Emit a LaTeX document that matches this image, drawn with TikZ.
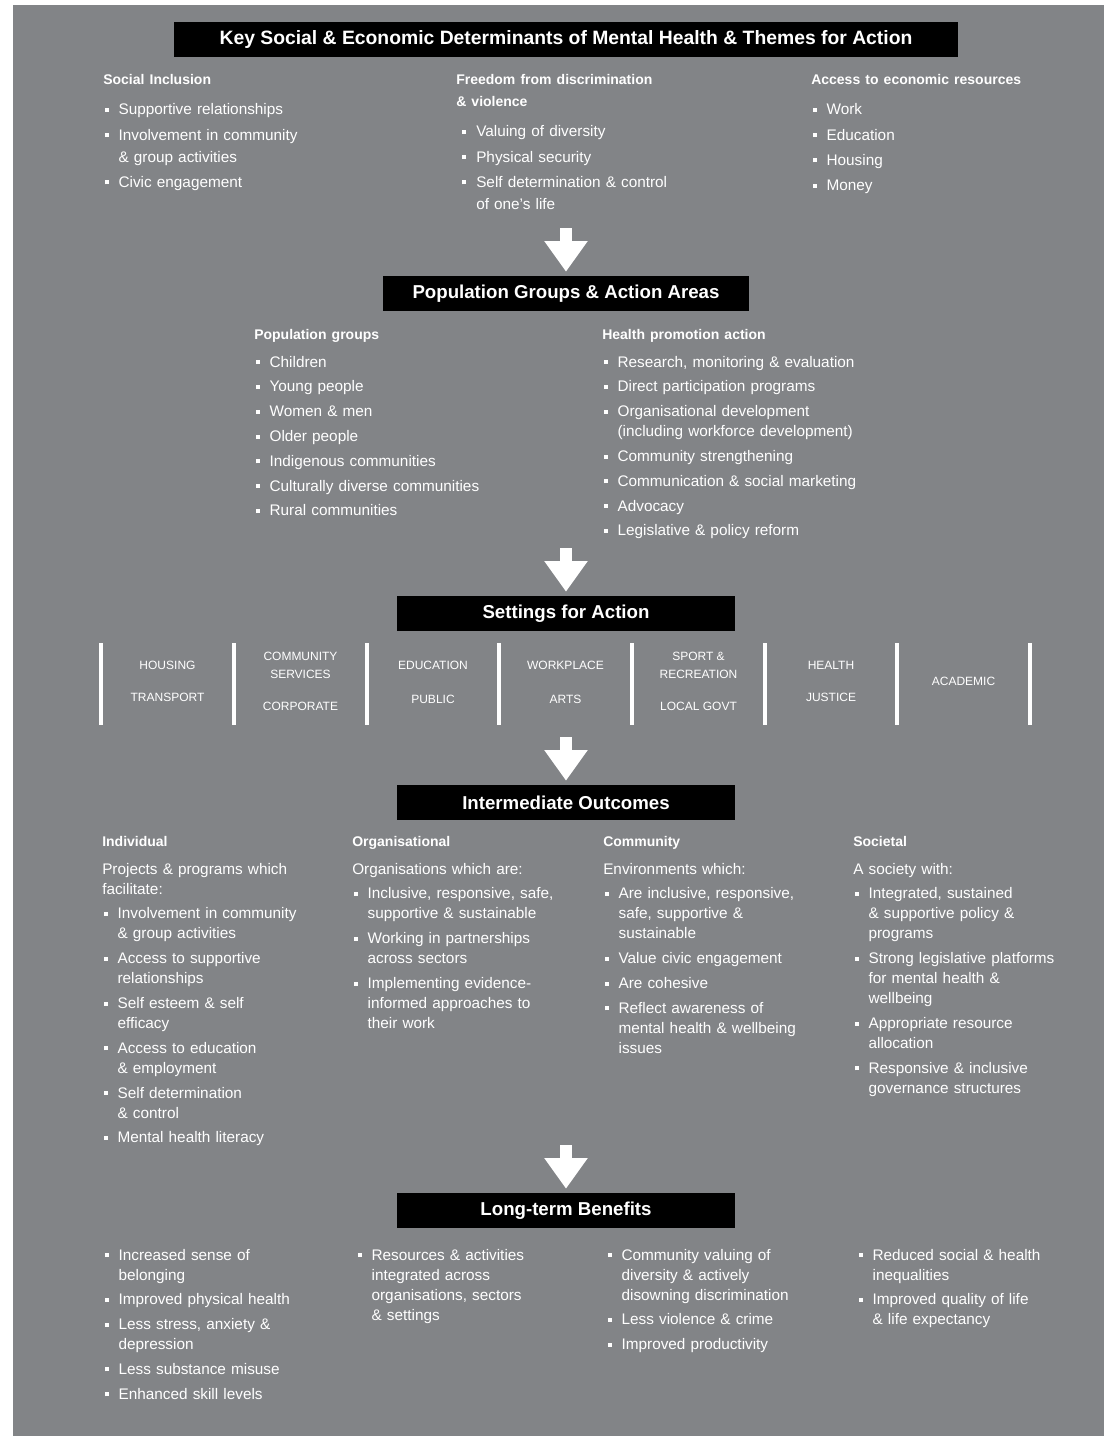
\documentclass[tikz,border=0pt]{standalone}
\usepackage{fontspec}
\setmainfont{Liberation Sans}
\usetikzlibrary{arrows.meta}

\definecolor{panelgray}{RGB}{130,132,135}

\newlength{\headgap}
\newcommand{\bsq}{\raisebox{2.2pt}{\rule{3pt}{3pt}}}
\newcommand{\bhead}[1]{\noindent{\bfseries\fontsize{10.5}{15}\selectfont #1}\par\vspace{\headgap}}
\newcommand{\bpara}[1]{\noindent #1\par}
\newcommand{\bitem}[2][0pt]{\hangindent=\dimexpr11.5pt+#1\relax\hangafter=1\noindent\hspace*{#1}%
  \makebox[11.5pt][l]{\hspace{1pt}\bsq}#2\par}

\begin{document}
\begin{tikzpicture}[x=0.75pt,y=-0.75pt,>={Triangle[width=31pt,length=23pt]}]

  \tikzstyle{titlebox}=[fill=black,text=white,inner sep=0pt,minimum height=26.25pt,
                        font=\bfseries\fontsize{14}{16}\selectfont]
  \tikzstyle{column}=[anchor=base west,inner sep=0pt,text=white,align=left,text width=200pt,
                      font=\fontsize{11.5}{15}\selectfont,
                      execute at begin node={\setlength{\parskip}{3.6pt}\setlength{\headgap}{2.5pt}}]
  \tikzstyle{topcolumn}=[column,font=\fontsize{11.5}{16.5}\selectfont,
                         execute at begin node={\setlength{\parskip}{2.5pt}\setlength{\headgap}{4pt}}]
  \tikzstyle{setting}=[inner sep=0pt,text=white,align=center,font=\fontsize{9}{13.5}\selectfont]
  \tikzstyle{bigarrow}=[->,white,line width=9pt,shorten >=3pt]
  \tikzstyle{divider}=[white,line width=2.5pt]

  \useasboundingbox (0,0) rectangle (1104,1439);
  \fill[panelgray] (13,5) rectangle (1104,1436);

  % title boxes
  \node[titlebox,minimum width=588pt,font=\bfseries\fontsize{14.5}{16}\selectfont] (determinants) at (566,39.5)
        {Key Social \& Economic Determinants of Mental Health \& Themes for Action};
  \node[titlebox,minimum width=274.5pt] (groups)       at (566,293.5) {Population Groups \& Action Areas};
  \node[titlebox,minimum width=254pt]   (settings)     at (566,613.5) {Settings for Action};
  \node[titlebox,minimum width=254pt]   (outcomes)     at (566,802.5) {Intermediate Outcomes};
  \node[titlebox,minimum width=254pt]   (benefits)     at (566,1210.5) {Long-term Benefits};

  % determinants
  \node[topcolumn] (inclusion) at (103,84) {\bhead{Social Inclusion}
    \bitem{Supportive relationships}
    \bitem{Involvement in community\newline \& group activities}
    \bitem{Civic engagement}};
  \node[topcolumn] (freedom) at (456,84) {\bhead{Freedom from discrimination\newline \& violence}
    \bitem[3.5pt]{Valuing of diversity}
    \bitem[3.5pt]{Physical security}
    \bitem[3.5pt]{Self determination \& control\newline of one's life}};
  \node[topcolumn] (resources) at (811,84) {\bhead{Access to economic resources}
    \bitem{Work}
    \bitem{Education}
    \bitem{Housing}
    \bitem{Money}};

  % population groups and action areas
  \node[column] (popgroups) at (254,339) {\bhead{Population groups}
    \bitem{Children}
    \bitem{Young people}
    \bitem{Women \& men}
    \bitem{Older people}
    \bitem{Indigenous communities}
    \bitem{Culturally diverse communities}
    \bitem{Rural communities}};
  \node[column,text width=240pt] (promotion) at (602,339) {\bhead{Health promotion action}
    \bitem{Research, monitoring \& evaluation}
    \bitem{Direct participation programs}
    \bitem{Organisational development\newline (including workforce development)}
    \bitem{Community strengthening}
    \bitem{Communication \& social marketing}
    \bitem{Advocacy}
    \bitem{Legislative \& policy reform}};

  % settings
  \node[setting] (housing)   at (167.5,665) {HOUSING};
  \node[setting] (transport) at (167.5,697) {TRANSPORT};
  \node[setting] (commserv)  at (300.5,665) {COMMUNITY\\SERVICES};
  \node[setting] (corporate) at (300.5,706) {CORPORATE};
  \node[setting] (education) at (433,665)   {EDUCATION};
  \node[setting] (public)    at (433,699)   {PUBLIC};
  \node[setting] (workplace) at (565.5,665) {WORKPLACE};
  \node[setting] (arts)      at (565.5,699) {ARTS};
  \node[setting] (sport)     at (698.5,665) {SPORT \&\\RECREATION};
  \node[setting] (localgovt) at (698.5,706) {LOCAL GOVT};
  \node[setting] (health)    at (831,665)   {HEALTH};
  \node[setting] (justice)   at (831,697)   {JUSTICE};
  \node[setting] (academic)  at (963.5,681) {ACADEMIC};

  \draw[divider] (101,643) -- (101,725);
  \draw[divider] (234,643) -- (234,725);
  \draw[divider] (367,643) -- (367,725);
  \draw[divider] (499,643) -- (499,725);
  \draw[divider] (632,643) -- (632,725);
  \draw[divider] (765,643) -- (765,725);
  \draw[divider] (897,643) -- (897,725);
  \draw[divider] (1030,643) -- (1030,725);

  % intermediate outcomes
  \node[column] (individual) at (102,846) {\bhead{Individual}
    \bpara{Projects \& programs which\newline facilitate:}
    \bitem{Involvement in community\newline \& group activities}
    \bitem{Access to supportive\newline relationships}
    \bitem{Self esteem \& self\newline efficacy}
    \bitem{Access to education\newline \& employment}
    \bitem{Self determination\newline \& control}
    \bitem{Mental health literacy}};
  \node[column] (organisational) at (352,846) {\bhead{Organisational}
    \bpara{Organisations which are:}
    \bitem{Inclusive, responsive, safe,\newline supportive \& sustainable}
    \bitem{Working in partnerships\newline across sectors}
    \bitem{Implementing evidence-\newline informed approaches to\newline their work}};
  \node[column] (community) at (603,846) {\bhead{Community}
    \bpara{Environments which:}
    \bitem{Are inclusive, responsive,\newline safe, supportive \&\newline sustainable}
    \bitem{Value civic engagement}
    \bitem{Are cohesive}
    \bitem{Reflect awareness of\newline mental health \& wellbeing\newline issues}};
  \node[column] (societal) at (853,846) {\bhead{Societal}
    \bpara{A society with:}
    \bitem{Integrated, sustained\newline \& supportive policy \&\newline programs}
    \bitem{Strong legislative platforms\newline for mental health \&\newline wellbeing}
    \bitem{Appropriate resource\newline allocation}
    \bitem{Responsive \& inclusive\newline governance structures}};

  % long-term benefits
  \node[column] (personal) at (103,1260) {\bitem{Increased sense of\newline belonging}
    \bitem{Improved physical health}
    \bitem{Less stress, anxiety \&\newline depression}
    \bitem{Less substance misuse}
    \bitem{Enhanced skill levels}};
  \node[column] (integrated) at (356,1260) {\bitem{Resources \& activities\newline integrated across\newline organisations, sectors\newline \& settings}};
  \node[column] (diversity) at (606,1260) {\bitem{Community valuing of\newline diversity \& actively\newline disowning discrimination}
    \bitem{Less violence \& crime}
    \bitem{Improved productivity}};
  \node[column] (equality) at (857,1260) {\bitem{Reduced social \& health\newline inequalities}
    \bitem{Improved quality of life\newline \& life expectancy}};

  % arrows
  \coordinate (from1) at (566,228);
  \coordinate (from2) at (566,548);
  \coordinate (from3) at (566,737);
  \coordinate (from4) at (566,1145);
  \draw[bigarrow] (from1) -- (groups.north);
  \draw[bigarrow] (from2) -- (settings.north);
  \draw[bigarrow] (from3) -- (outcomes.north);
  \draw[bigarrow] (from4) -- (benefits.north);

\end{tikzpicture}
\end{document}
